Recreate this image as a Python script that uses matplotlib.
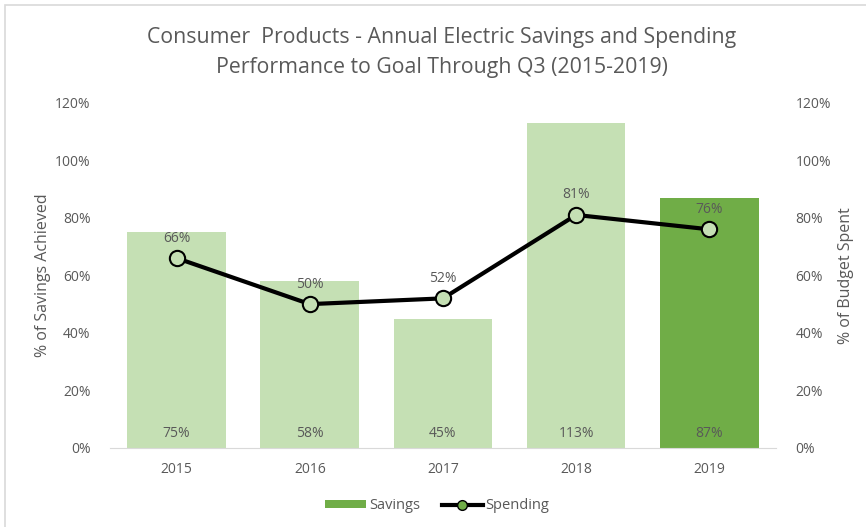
import matplotlib.pyplot as plt
from matplotlib.patches import Rectangle
from matplotlib.lines import Line2D
from matplotlib.patches import Patch
from matplotlib.ticker import FuncFormatter

# data
years = ['2015', '2016', '2017', '2018', '2019']
savings = [75, 58, 45, 113, 87]
spending = [66, 50, 52, 81, 76]

light_green = '#C5E0B4'
dark_green = '#70AD47'
grey = '#595959'

plt.rcParams['font.family'] = ['Open Sans', 'DejaVu Sans']

fig = plt.figure(figsize=(8.66, 5.27), dpi=100)
ax = fig.add_axes([0.127, 0.150, 0.769, 0.655])
ax2 = ax.twinx()

x = list(range(len(years)))
colors = [light_green] * 4 + [dark_green]
ax.bar(x, savings, width=0.74, color=colors, zorder=1)
for xi, v in zip(x, savings):
    ax.text(xi, 5, '%d%%' % v, ha='center', va='center', fontsize=10, color=grey)

ax2.plot(x, spending, color='black', linewidth=3, marker='o', markersize=11,
         markerfacecolor=light_green, markeredgecolor='black', markeredgewidth=1.5, zorder=3)
for xi, v in zip(x, spending):
    ax2.annotate('%d%%' % v, (xi, v), xytext=(0, 9), textcoords='offset points',
                 ha='center', va='bottom', fontsize=10, color=grey)

pct = FuncFormatter(lambda v, p: '%d%%' % v)
for a in (ax, ax2):
    a.set_ylim(0, 120)
    a.set_yticks(range(0, 121, 20))
    a.yaxis.set_major_formatter(pct)
    a.tick_params(axis='y', length=0, labelsize=10, labelcolor=grey, pad=14)
    for s in a.spines.values():
        s.set_visible(False)
ax.spines['bottom'].set_visible(True)
ax.spines['bottom'].set_color('#D9D9D9')
ax.set_xlim(-0.5, 4.5)
ax.set_xticks(x)
ax.set_xticklabels(years)
ax.tick_params(axis='x', length=0, labelsize=10, labelcolor=grey, pad=10)

ax.set_ylabel('% of Savings Achieved', fontsize=11.5, color=grey, labelpad=3)
ax2.set_ylabel('% of Budget Spent', fontsize=11.5, color=grey, labelpad=5)

fig.text(0.51, 0.90, 'Consumer  Products - Annual Electric Savings and Spending\nPerformance to Goal Through Q3 (2015-2019)',
         ha='center', va='center', fontsize=15.3, color=grey, linespacing=1.6)

handles = [Patch(facecolor=dark_green, label='Savings'),
           Line2D([], [], color='black', linewidth=3, marker='o', markersize=7,
                  markerfacecolor=dark_green, markeredgecolor='black', label='Spending')]
leg = fig.legend(handles=handles, loc='center', bbox_to_anchor=(0.505, 0.04), ncol=2,
                 frameon=False, fontsize=10.5, handlelength=2.8, handleheight=0.5,
                 handletextpad=0.2, columnspacing=1.5)
for t in leg.get_texts():
    t.set_color(grey)

# chart border (screenshot crop shows left and top edges)
fig.patches.append(Rectangle((0.006, -0.1), 1.2, 1.09, transform=fig.transFigure,
                             fill=False, edgecolor='#D9D9D9', linewidth=1.2))

fig.savefig('out.png', dpi=100)
